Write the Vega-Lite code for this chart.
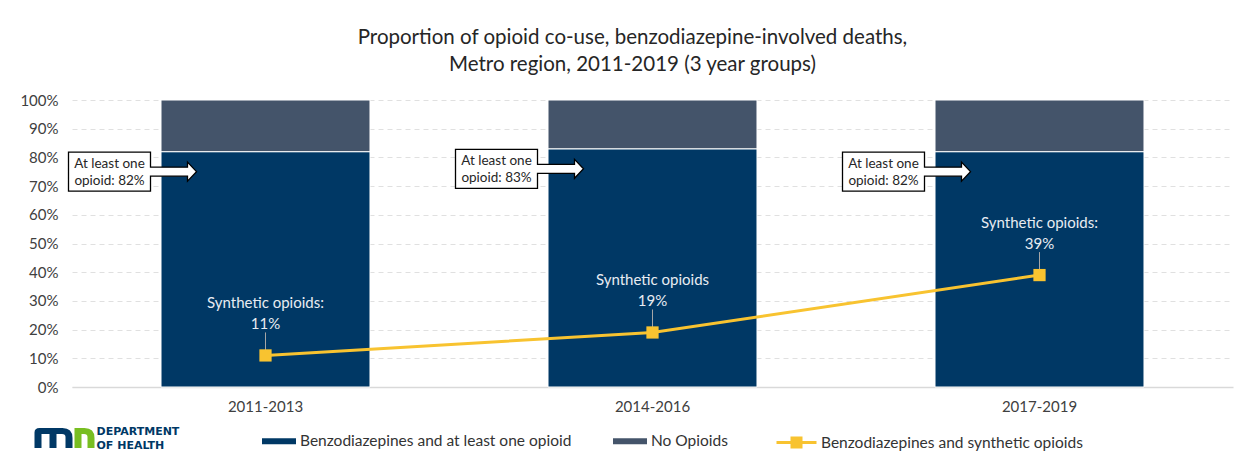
{
  "$schema": "https://vega.github.io/schema/vega-lite/v6.json",
  "width": 1161,
  "height": 287,
  "autosize": {"type": "none"},
  "padding": {"left": 72, "top": 100, "right": 17, "bottom": 83},
  "background": "white",
  "title": {
    "text": ["Proportion of opioid co-use, benzodiazepine-involved deaths,", "Metro region, 2011-2019 (3 year groups)"],
    "fontSize": 20.5, "fontWeight": "normal", "color": "#262626", "font": "Lato",
    "anchor": "middle", "offset": 18, "dx": -20, "lineHeight": 27
  },
  "config": {
    "font": "Lato",
    "view": {"stroke": null},
    "axisY": {"labelOverlap": false, "domain": false, "ticks": false, "grid": true, "gridColor": "#E0E0E0", "gridDash": [5, 4], "labelFontSize": 15, "labelColor": "#404040", "labelPadding": 14, "title": null},
    "axisX": {"title": null, "domain": true, "domainColor": "#D9D9D9", "domainWidth": 1.5, "ticks": false, "labelAngle": 0, "labelFontSize": 15, "labelColor": "#404040", "labelPadding": 12}
  },
  "datasets": {
    "bars": [
      {"period": "2011-2013", "category": "Benzodiazepines and at least one opioid", "value": 82},
      {"period": "2011-2013", "category": "No Opioids", "value": 18},
      {"period": "2014-2016", "category": "Benzodiazepines and at least one opioid", "value": 83},
      {"period": "2014-2016", "category": "No Opioids", "value": 17},
      {"period": "2017-2019", "category": "Benzodiazepines and at least one opioid", "value": 82},
      {"period": "2017-2019", "category": "No Opioids", "value": 18}
    ],
    "callouts": [
      {"period": "2011-2013", "value": 82, "label": "At least one\nopioid: 82%"},
      {"period": "2014-2016", "value": 83, "label": "At least one\nopioid: 83%"},
      {"period": "2017-2019", "value": 82, "label": "At least one\nopioid: 82%"}
    ],
    "synthetic": [
      {"period": "2011-2013", "value": 11, "series": "Benzodiazepines and synthetic opioids", "label": "Synthetic opioids:\n11%"},
      {"period": "2014-2016", "value": 19, "series": "Benzodiazepines and synthetic opioids", "label": "Synthetic opioids\n19%"},
      {"period": "2017-2019", "value": 39, "series": "Benzodiazepines and synthetic opioids", "label": "Synthetic opioids:\n39%"}
    ]
  },
  "layer": [
    {
      "data": {"name": "bars"},
      "mark": {"type": "bar", "stroke": "white", "strokeWidth": 1},
      "encoding": {
        "x": {
          "field": "period", "type": "nominal", "sort": null,
          "scale": {"paddingInner": 0.46, "paddingOuter": 0.23}
        },
        "y": {
          "field": "value", "type": "quantitative", "stack": "zero",
          "scale": {"domain": [0, 100], "nice": false},
          "axis": {"values": [0, 10, 20, 30, 40, 50, 60, 70, 80, 90, 100], "labelExpr": "datum.value + '%'", "labelOverlap": false}
        },
        "order": {"field": "category", "sort": "ascending"},
        "color": {
          "field": "category", "type": "nominal",
          "scale": {"domain": ["Benzodiazepines and at least one opioid", "No Opioids"], "range": ["#003865", "#44546A"]},
          "legend": {"orient": "none", "legendX": 190, "legendY": 324, "direction": "horizontal", "title": null, "symbolType": "M-1,-0.18L1,-0.18L1,0.18L-1,0.18Z", "symbolSize": 1156, "symbolStrokeWidth": 0, "labelFontSize": 15.5, "labelLimit": 400, "labelColor": "#333333", "columnPadding": 41, "labelOffset": 4}
        }
      }
    },
    {
      "data": {"name": "callouts"},
      "mark": {"type": "point", "shape": "M-0.82,-0.39L0.82,-0.39L0.82,-0.09L1.56,-0.09L1.56,-0.19L1.74,0L1.56,0.19L1.56,0.09L0.82,0.09L0.82,0.39L-0.82,0.39Z", "size": 10000, "filled": true, "fill": "white", "stroke": "black", "strokeWidth": 1.3, "opacity": 1, "xOffset": -156, "yOffset": 20},
      "encoding": {
        "x": {"field": "period", "type": "nominal", "sort": null},
        "y": {"field": "value", "type": "quantitative", "axis": {"values": [0, 10, 20, 30, 40, 50, 60, 70, 80, 90, 100], "labelExpr": "datum.value + '%'", "labelOverlap": false}}
      }
    },
    {
      "data": {"name": "callouts"},
      "mark": {"type": "text", "dx": -156, "dy": 12, "lineBreak": "\n", "fontSize": 13.5, "color": "#262626", "lineHeight": 17, "align": "center", "baseline": "middle"},
      "encoding": {
        "x": {"field": "period", "type": "nominal", "sort": null},
        "y": {"field": "value", "type": "quantitative", "axis": {"values": [0, 10, 20, 30, 40, 50, 60, 70, 80, 90, 100], "labelExpr": "datum.value + '%'", "labelOverlap": false}},
        "text": {"field": "label"}
      }
    },
    {
      "data": {"name": "synthetic"},
      "mark": {"type": "line", "color": "#F8C330", "strokeWidth": 3},
      "encoding": {
        "x": {"field": "period", "type": "nominal", "sort": null},
        "y": {"field": "value", "type": "quantitative", "axis": {"values": [0, 10, 20, 30, 40, 50, 60, 70, 80, 90, 100], "labelExpr": "datum.value + '%'", "labelOverlap": false}}
      }
    },
    {
      "data": {"name": "synthetic"},
      "mark": {"type": "point", "shape": "M0,-2.3L0,-0.3", "size": 400, "filled": false, "stroke": "#A6A6A6", "strokeWidth": 1, "opacity": 1},
      "encoding": {
        "x": {"field": "period", "type": "nominal", "sort": null},
        "y": {"field": "value", "type": "quantitative", "axis": {"values": [0, 10, 20, 30, 40, 50, 60, 70, 80, 90, 100], "labelExpr": "datum.value + '%'", "labelOverlap": false}}
      }
    },
    {
      "data": {"name": "synthetic"},
      "mark": {"type": "point", "shape": "square", "size": 150, "filled": true, "color": "#F8C330", "opacity": 1},
      "encoding": {
        "x": {"field": "period", "type": "nominal", "sort": null},
        "y": {"field": "value", "type": "quantitative", "axis": {"values": [0, 10, 20, 30, 40, 50, 60, 70, 80, 90, 100], "labelExpr": "datum.value + '%'", "labelOverlap": false}}
      }
    },
    {
      "data": {"name": "synthetic"},
      "mark": {"type": "text", "dy": -52, "lineBreak": "\n", "fontSize": 15, "color": "#E8ECF2", "lineHeight": 21, "align": "center", "baseline": "middle"},
      "encoding": {
        "x": {"field": "period", "type": "nominal", "sort": null},
        "y": {"field": "value", "type": "quantitative", "axis": {"values": [0, 10, 20, 30, 40, 50, 60, 70, 80, 90, 100], "labelExpr": "datum.value + '%'", "labelOverlap": false}},
        "text": {"field": "label"}
      }
    },
    {
      "data": {"name": "synthetic"},
      "mark": {"type": "point", "filled": false, "stroke": "#F8C330", "strokeWidth": 3, "opacity": 0},
      "encoding": {
        "x": {"field": "period", "type": "nominal", "sort": null},
        "y": {"field": "value", "type": "quantitative", "axis": {"values": [0, 10, 20, 30, 40, 50, 60, 70, 80, 90, 100], "labelExpr": "datum.value + '%'", "labelOverlap": false}},
        "shape": {
          "field": "series", "type": "nominal",
          "scale": {"range": ["M-1,0L1,0M-0.3,-0.225L0.3,-0.225M-0.3,-0.075L0.3,-0.075M-0.3,0.075L0.3,0.075M-0.3,0.225L0.3,0.225"]},
          "legend": {"orient": "none", "legendX": 703, "legendY": 321, "title": null, "labelFontSize": 15.5, "labelLimit": 400, "labelColor": "#333333", "symbolSize": 1600, "labelOffset": 3, "symbolStrokeColor": "#F8C330", "symbolStrokeWidth": 3, "symbolOpacity": 1}
        }
      }
    },
    {
      "data": {"values": [{}]},
      "mark": {"type": "point", "shape": "M-3,1L-3,-0.55Q-3,-1 -2.5,-1L-0.2,-1Q0.8,-1 0.8,0L0.8,1L0.1,1L0.1,-0.1Q0.1,-0.4 -0.25,-0.4L-0.8,-0.4L-0.8,1L-1.5,1L-1.5,-0.4L-2.3,-0.4L-2.3,1Z", "size": 400, "filled": true, "color": "#003865", "opacity": 1, "xOffset": -201, "yOffset": 51},
      "encoding": {
        "x": {"datum": "2011-2013", "type": "nominal"},
        "y": {"datum": 0, "type": "quantitative", "axis": {"values": [0, 10, 20, 30, 40, 50, 60, 70, 80, 90, 100], "labelExpr": "datum.value + '%'", "labelOverlap": false}}
      }
    },
    {
      "data": {"values": [{}]},
      "mark": {"type": "point", "shape": "M1.0,1L1.0,-1L2.0,-1Q3,-1 3,0L3,1L2.3,1L2.3,-0.1Q2.3,-0.4 1.95,-0.4L1.7,-0.4L1.7,1Z", "size": 400, "filled": true, "color": "#78BE21", "opacity": 1, "xOffset": -201, "yOffset": 51},
      "encoding": {
        "x": {"datum": "2011-2013", "type": "nominal"},
        "y": {"datum": 0, "type": "quantitative", "axis": {"values": [0, 10, 20, 30, 40, 50, 60, 70, 80, 90, 100], "labelExpr": "datum.value + '%'", "labelOverlap": false}}
      }
    },
    {
      "data": {"values": [{}]},
      "mark": {"type": "text", "dx": -169, "dy": 45, "lineBreak": "\n", "font": "DejaVu Sans", "fontSize": 11, "fontWeight": "bold", "color": "#003865", "lineHeight": 14, "align": "left", "baseline": "middle"},
      "encoding": {
        "x": {"datum": "2011-2013", "type": "nominal"},
        "y": {"datum": 0, "type": "quantitative", "axis": {"values": [0, 10, 20, 30, 40, 50, 60, 70, 80, 90, 100], "labelExpr": "datum.value + '%'", "labelOverlap": false}},
        "text": {"value": "DEPARTMENT\nOF HEALTH"}
      }
    }
  ]
}
